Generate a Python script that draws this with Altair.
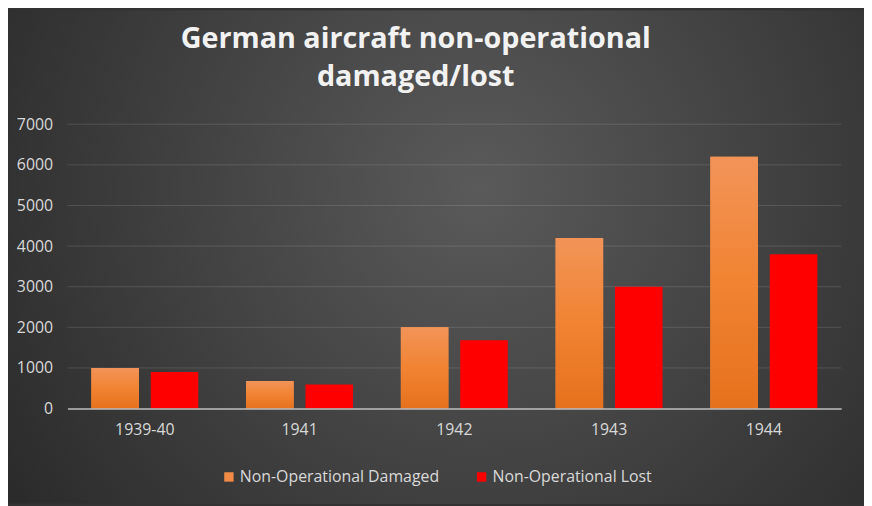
import altair as alt
import pandas as pd

years = ["1939-40", "1941", "1942", "1943", "1944"]
series = ["Non-Operational Damaged", "Non-Operational Lost"]
damaged = [1000, 680, 2000, 4200, 6200]
lost = [900, 590, 1680, 3000, 3800]
y_ticks = [0, 1000, 2000, 3000, 4000, 5000, 6000, 7000]

rows = []
for yr, d, l in zip(years, damaged, lost):
    rows.append({"year": yr, "series": series[0], "value": d})
    rows.append({"year": yr, "series": series[1], "value": l})
df = pd.DataFrame(rows)
grid_df = pd.DataFrame({"tick": y_ticks[1:]})

W, H = 781, 287
L, T = 60, 115
R, B = 864 - L - W, 498 - T - H

FONT = "Open Sans"
LABEL = "#D9D9D9"

bg = alt.Chart(alt.Data(values=[{"a": 1}])).mark_rect(
    fill=alt.RadialGradient(
        gradient="radial",
        stops=[alt.GradientStop(offset=0, color="#5A5A5A"),
               alt.GradientStop(offset=1, color="#262626")],
        x1=0.55, y1=0.42, r1=0,
        x2=0.55, y2=0.42, r2=0.72,
    )
).encode(
    x=alt.value(-L), x2=alt.value(W + R),
    y=alt.value(-T), y2=alt.value(H + B),
)

x_enc = alt.X("year:N", sort=years,
              scale=alt.Scale(domain=years, paddingInner=0.309, paddingOuter=0.1545),
              axis=alt.Axis(title=None, labelAngle=0, ticks=False, labelPadding=13,
                            labelFont=FONT, labelFontSize=16, labelColor=LABEL,
                            domainColor="#BFBFBF", domainWidth=1.5, grid=False,
                            zindex=1))
xo_enc = alt.XOffset("series:N", sort=series,
                     scale=alt.Scale(domain=series, paddingInner=0.2, paddingOuter=0))
y_scale = alt.Scale(domain=[0, 7000], nice=False)
y_enc = alt.Y("value:Q", scale=y_scale,
              axis=alt.Axis(title=None, values=y_ticks, format="d", ticks=False,
                            domain=False, labelPadding=15, labelFont=FONT,
                            labelFontSize=16, labelColor=LABEL, grid=False, zindex=1))

grid = alt.Chart(grid_df).mark_rule(color="#FFFFFF", opacity=0.13, strokeWidth=1).encode(
    y=alt.Y("tick:Q", scale=y_scale),
    x=alt.value(0), x2=alt.value(W),
)

bars = alt.Chart(df).mark_bar().encode(
    x=x_enc, xOffset=xo_enc, y=y_enc,
    color=alt.Color("series:N", sort=series,
                    scale=alt.Scale(domain=series, range=["#F08A45", "#FF0000"]),
                    legend=alt.Legend(title=None, orient="none", legendX=155, legendY=348,
                                      direction="horizontal", symbolType="square",
                                      symbolSize=90, symbolStrokeWidth=0,
                                      labelFont=FONT, labelFontSize=16, labelColor=LABEL,
                                      labelOffset=3, columnPadding=34, labelLimit=400)),
)

grad = alt.Chart(df).transform_filter(
    alt.datum.series == series[0]
).mark_bar(
    fill=alt.LinearGradient(
        gradient="linear",
        stops=[alt.GradientStop(offset=0, color="#F29458"),
               alt.GradientStop(offset=0.5, color="#F18332"),
               alt.GradientStop(offset=1, color="#E6711C")],
        x1=0, x2=0, y1=0, y2=1,
    )
).encode(x=x_enc, xOffset=xo_enc, y=y_enc)

chart = alt.layer(bg, grid, bars, grad).properties(
    width=W, height=H,
    padding={"left": L, "top": T, "right": R, "bottom": B},
    autosize=alt.AutoSizeParams(type="none"),
    title=alt.Title(["German aircraft non-operational", "damaged/lost"],
                    font=FONT, fontSize=29, fontWeight="bold", color="#F2F2F2",
                    lineHeight=38, anchor="middle", offset=-82, dx=-39),
).configure(background="#333333").configure_view(stroke=None)

chart.save("out.html", embed_options={"renderer": "svg", "actions": False})
